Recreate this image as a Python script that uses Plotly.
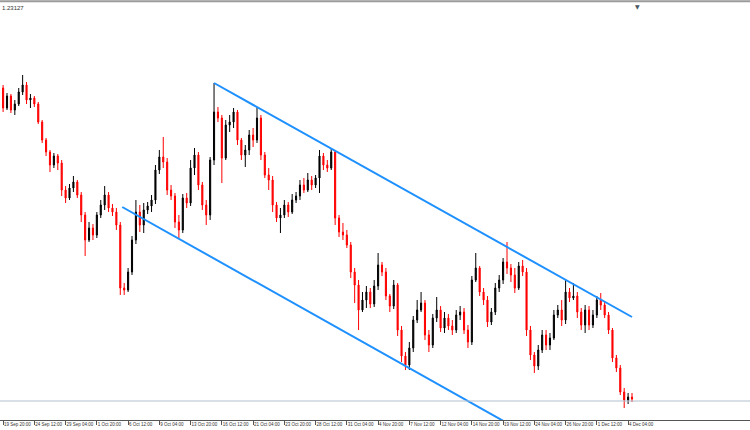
import plotly.graph_objects as go

# H4-style bars (prices)
opens = [1.2230, 1.2210, 1.2222, 1.2208, 1.2214, 1.2226, 1.2233, 1.2218, 1.2220, 1.2214,
         1.2196, 1.2178, 1.2166, 1.2153, 1.2162, 1.2155, 1.2128, 1.2120, 1.2130, 1.2136,
         1.2123, 1.2103, 1.2078, 1.2090, 1.2083, 1.2103, 1.2113, 1.2123, 1.2110, 1.2106,
         1.2093, 1.2030, 1.2028, 1.2046, 1.2078, 1.2106, 1.2093, 1.2108, 1.2112, 1.2118,
         1.2148, 1.2161, 1.2156, 1.2128, 1.2122, 1.2096, 1.2088, 1.2120, 1.2115, 1.2150,
         1.2163, 1.2133, 1.2113, 1.2103, 1.2158, 1.2206, 1.2200, 1.2160, 1.2193, 1.2196,
         1.2206, 1.2178, 1.2163, 1.2168, 1.2183, 1.2178, 1.2200, 1.2163, 1.2143, 1.2138,
         1.2113, 1.2100, 1.2103, 1.2113, 1.2106, 1.2118, 1.2122, 1.2133, 1.2128, 1.2138,
         1.2133, 1.2140, 1.2162, 1.2153, 1.2150, 1.2166, 1.2100, 1.2086, 1.2083, 1.2073,
         1.2046, 1.2033, 1.2008, 1.2018, 1.2026, 1.2014, 1.2032, 1.2053, 1.2046, 1.2022,
         1.2012, 1.2033, 1.1988, 1.1962, 1.1953, 1.1970, 1.1998, 1.2008, 1.2015, 1.1983,
         1.1973, 1.2000, 1.2008, 1.1990, 1.2000, 1.1992, 1.1988, 1.2003, 1.2006, 1.1988,
         1.1976, 1.2038, 1.2050, 1.2026, 1.2018, 1.1996, 1.2006, 1.2030, 1.2038, 1.2056,
         1.2050, 1.2043, 1.2030, 1.2052, 1.2046, 1.1988, 1.1963, 1.1952, 1.1968, 1.1983,
         1.1973, 1.1980, 1.2003, 1.2008, 1.1998, 1.2026, 1.2020, 1.2022, 1.2006, 1.1993,
         1.2008, 1.1993, 1.2003, 1.2018, 1.2013, 1.2003, 1.1988, 1.1960, 1.1950, 1.1926,
         1.1918, 1.1921]
highs = [1.2233, 1.2225, 1.2224, 1.2218, 1.2230, 1.2243, 1.2236, 1.2224, 1.2222, 1.2216,
         1.2198, 1.2180, 1.2168, 1.2165, 1.2164, 1.2158, 1.2132, 1.2134, 1.2142, 1.2138,
         1.2126, 1.2106, 1.2096, 1.2094, 1.2106, 1.2118, 1.2132, 1.2126, 1.2114, 1.2110,
         1.2096, 1.2035, 1.2050, 1.2082, 1.2118, 1.2113, 1.2115, 1.2116, 1.2123, 1.2153,
         1.2168, 1.2181, 1.2160, 1.2133, 1.2125, 1.2103, 1.2124, 1.2125, 1.2158, 1.2170,
         1.2166, 1.2136, 1.2118, 1.2161, 1.2235, 1.2211, 1.2203, 1.2198, 1.2203, 1.2210,
         1.2208, 1.2180, 1.2173, 1.2188, 1.2190, 1.2211, 1.2203, 1.2166, 1.2150, 1.2142,
         1.2116, 1.2110, 1.2118, 1.2116, 1.2124, 1.2126, 1.2138, 1.2140, 1.2145, 1.2142,
         1.2143, 1.2168, 1.2165, 1.2158, 1.2170, 1.2168, 1.2103, 1.2095, 1.2088, 1.2076,
         1.2050, 1.2038, 1.2026, 1.2032, 1.2030, 1.2038, 1.2065, 1.2056, 1.2050, 1.2024,
         1.2038, 1.2035, 1.1992, 1.1966, 1.1976, 1.2002, 1.2018, 1.2026, 1.2018, 1.1988,
         1.2004, 1.2021, 1.2012, 1.2006, 1.2004, 1.1998, 1.2008, 1.2012, 1.2010, 1.1993,
         1.2042, 1.2065, 1.2052, 1.2030, 1.2022, 1.2010, 1.2035, 1.2043, 1.2060, 1.2076,
         1.2054, 1.2050, 1.2056, 1.2058, 1.2050, 1.1992, 1.1966, 1.1973, 1.1988, 1.1988,
         1.1985, 1.2008, 1.2013, 1.2018, 1.2038, 1.2030, 1.2035, 1.2026, 1.2010, 1.2013,
         1.2012, 1.2008, 1.2022, 1.2025, 1.2016, 1.2006, 1.1990, 1.1963, 1.1953, 1.1930,
         1.1925, 1.1925]
lows = [1.2206, 1.2208, 1.2205, 1.2203, 1.2212, 1.2223, 1.2214, 1.2210, 1.2211, 1.2194,
        1.2175, 1.2162, 1.2146, 1.2150, 1.2148, 1.2122, 1.2115, 1.2118, 1.2126, 1.2120,
        1.2096, 1.2062, 1.2076, 1.2078, 1.2080, 1.2100, 1.2108, 1.2106, 1.2102, 1.2088,
        1.2023, 1.2023, 1.2026, 1.2043, 1.2074, 1.2086, 1.2085, 1.2104, 1.2106, 1.2114,
        1.2144, 1.2150, 1.2123, 1.2118, 1.2090, 1.2080, 1.2085, 1.2110, 1.2112, 1.2143,
        1.2128, 1.2108, 1.2093, 1.2098, 1.2153, 1.2196, 1.2135, 1.2158, 1.2186, 1.2190,
        1.2173, 1.2158, 1.2151, 1.2163, 1.2171, 1.2175, 1.2158, 1.2140, 1.2128, 1.2106,
        1.2096, 1.2085, 1.2100, 1.2101, 1.2104, 1.2115, 1.2118, 1.2125, 1.2126, 1.2128,
        1.2130, 1.2125, 1.2148, 1.2146, 1.2148, 1.2093, 1.2081, 1.2078, 1.2070, 1.2040,
        1.2015, 1.1988, 1.2006, 1.2010, 1.2010, 1.2011, 1.2028, 1.2042, 1.2018, 1.2006,
        1.2009, 1.1982, 1.1956, 1.1948, 1.1948, 1.1966, 1.1995, 1.2006, 1.1978, 1.1966,
        1.1970, 1.1996, 1.1986, 1.1985, 1.1988, 1.1983, 1.1985, 1.1998, 1.1984, 1.1970,
        1.1973, 1.2036, 1.2022, 1.2013, 1.1991, 1.1993, 1.2003, 1.2026, 1.2034, 1.2044,
        1.2036, 1.2025, 1.2028, 1.2042, 1.1982, 1.1958, 1.1945, 1.1948, 1.1965, 1.1968,
        1.1968, 1.1978, 1.2000, 1.1992, 1.1994, 1.2016, 1.2018, 1.2000, 1.1988, 1.1985,
        1.1988, 1.1990, 1.2000, 1.2008, 1.2000, 1.1984, 1.1956, 1.1946, 1.1923, 1.1910,
        1.1914, 1.1916]
closes = [1.2210, 1.2222, 1.2208, 1.2214, 1.2226, 1.2233, 1.2218, 1.2220, 1.2214, 1.2196,
          1.2178, 1.2166, 1.2153, 1.2162, 1.2155, 1.2128, 1.2120, 1.2130, 1.2136, 1.2123,
          1.2103, 1.2078, 1.2090, 1.2083, 1.2103, 1.2113, 1.2123, 1.2110, 1.2106, 1.2093,
          1.2030, 1.2028, 1.2046, 1.2078, 1.2106, 1.2093, 1.2108, 1.2112, 1.2118, 1.2148,
          1.2161, 1.2156, 1.2128, 1.2122, 1.2096, 1.2088, 1.2120, 1.2115, 1.2150, 1.2163,
          1.2133, 1.2113, 1.2103, 1.2158, 1.2206, 1.2200, 1.2160, 1.2193, 1.2196, 1.2206,
          1.2178, 1.2163, 1.2168, 1.2183, 1.2178, 1.2200, 1.2163, 1.2143, 1.2138, 1.2113,
          1.2100, 1.2103, 1.2113, 1.2106, 1.2118, 1.2122, 1.2133, 1.2128, 1.2138, 1.2133,
          1.2140, 1.2162, 1.2153, 1.2150, 1.2166, 1.2100, 1.2086, 1.2083, 1.2073, 1.2046,
          1.2033, 1.2008, 1.2018, 1.2026, 1.2014, 1.2032, 1.2053, 1.2046, 1.2022, 1.2012,
          1.2033, 1.1988, 1.1962, 1.1953, 1.1970, 1.1998, 1.2008, 1.2015, 1.1983, 1.1973,
          1.2000, 1.2008, 1.1990, 1.2000, 1.1992, 1.1988, 1.2003, 1.2006, 1.1988, 1.1976,
          1.2038, 1.2050, 1.2026, 1.2018, 1.1996, 1.2006, 1.2030, 1.2038, 1.2056, 1.2050,
          1.2043, 1.2030, 1.2052, 1.2046, 1.1988, 1.1963, 1.1952, 1.1968, 1.1983, 1.1973,
          1.1980, 1.2003, 1.2008, 1.1998, 1.2026, 1.2020, 1.2022, 1.2006, 1.1993, 1.2008,
          1.1993, 1.2003, 1.2018, 1.2013, 1.2003, 1.1988, 1.1960, 1.1950, 1.1926, 1.1918,
          1.1921, 1.1919]

tick_labels = ["19 Sep 20:00", "24 Sep 12:00", "29 Sep 04:00", "1 Oct 20:00", "6 Oct 12:00",
               "9 Oct 04:00", "13 Oct 20:00", "16 Oct 12:00", "21 Oct 04:00", "23 Oct 20:00",
               "28 Oct 12:00", "31 Oct 04:00", "4 Nov 20:00", "7 Nov 12:00", "12 Nov 04:00",
               "14 Nov 20:00", "19 Nov 12:00", "24 Nov 04:00", "26 Nov 20:00", "1 Dec 12:00",
               "4 Dec 04:00"]
bars_per_label = 8

# channel lines (bar index, price)
upper_x = [54, 161]
upper_y = [1.2235, 1.2001]
lower_x = [30.5, 129]
lower_y = [1.2111, 1.1895]

hline_price = 1.1917
top_price = "1.23127"

idx = list(range(len(closes)))

fig = go.Figure()
fig.add_trace(go.Candlestick(
    x=idx, open=opens, high=highs, low=lows, close=closes,
    increasing=dict(line=dict(color='#000000', width=1), fillcolor='#000000'),
    decreasing=dict(line=dict(color='#FF0000', width=1), fillcolor='#FF0000'),
    whiskerwidth=0, hoverinfo='skip'
))
fig.add_trace(go.Scatter(x=upper_x, y=upper_y, mode='lines',
                         line=dict(color='#1E90FF', width=2), hoverinfo='skip'))
fig.add_trace(go.Scatter(x=lower_x, y=lower_y, mode='lines',
                         line=dict(color='#1E90FF', width=2), hoverinfo='skip'))

fig.add_hline(y=hline_price, line=dict(color='#B3BFCD', width=1))
fig.add_shape(type='line', xref='paper', yref='paper', x0=0, x1=1, y0=0.997, y1=0.997,
              line=dict(color='#9A9A9A', width=2))

fig.add_annotation(text=top_price, xref='paper', yref='paper', x=0, y=0.993,
                   xanchor='left', yanchor='top', showarrow=False,
                   font=dict(family='Liberation Sans', size=6, color='#333333'))
fig.add_annotation(text='▼', xref='paper', yref='paper', x=637 / 750, y=0.998,
                   xanchor='center', yanchor='top', showarrow=False,
                   font=dict(family='DejaVu Sans', size=6, color='#4A5663'))

fig.update_layout(
    width=750, height=430,
    margin=dict(l=0, r=0, t=0, b=10),
    paper_bgcolor='white', plot_bgcolor='white',
    showlegend=False, hovermode=False, boxgap=0.6,
    xaxis=dict(
        range=[-0.794, 191.206], rangeslider=dict(visible=False),
        tickvals=[bars_per_label * k for k in range(len(tick_labels))],
        ticktext=tick_labels, ticklabelposition='outside right', tickangle=0,
        ticks='outside', ticklen=4, tickcolor='#555555',
        showline=True, linecolor='#555555', linewidth=1,
        showgrid=False, zeroline=False,
        tickfont=dict(family='Liberation Sans', size=4.5, color='#333333'),
    ),
    yaxis=dict(range=[1.1898, 1.2318], showticklabels=False, showgrid=False,
               zeroline=False, showline=False),
)

fig.write_html("out.html", config={'displayModeBar': False},
               post_script="document.body.style.margin='0';")
